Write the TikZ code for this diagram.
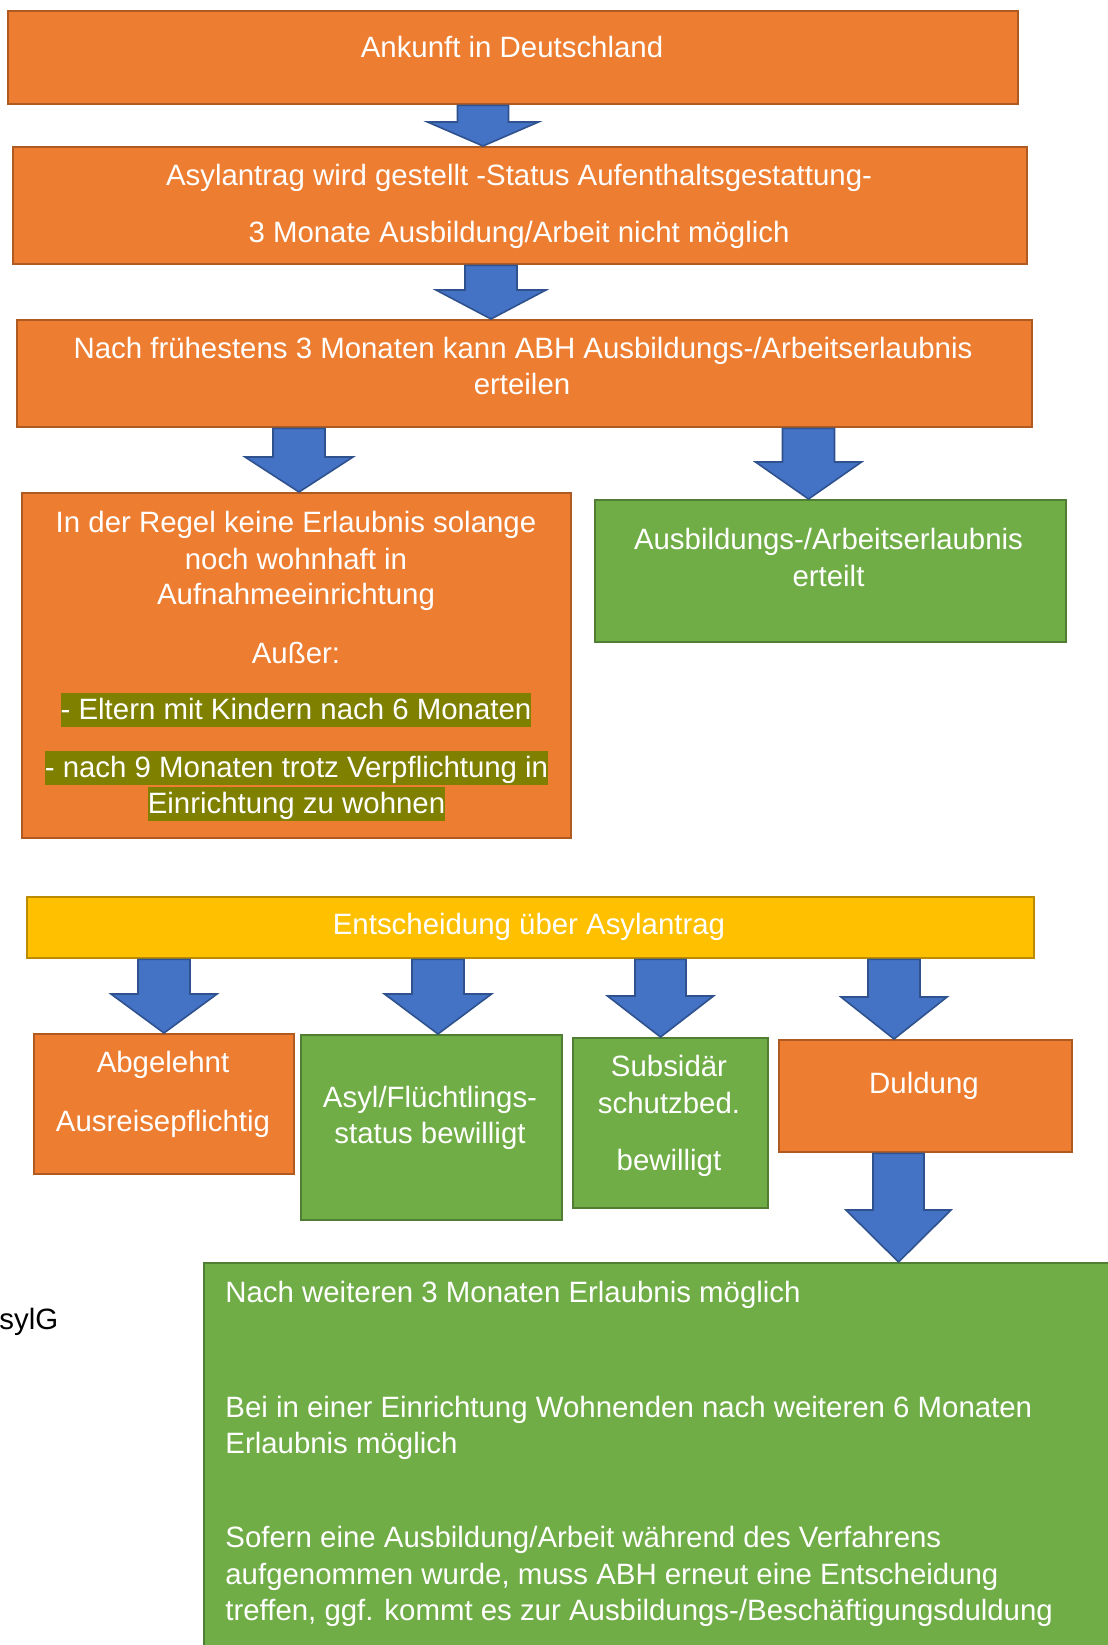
\documentclass[tikz,border=0pt]{standalone}
\usepackage{fontspec}
\setmainfont{Liberation Sans}
\usetikzlibrary{calc}
\definecolor{obg}{HTML}{ED7D31}
\definecolor{oln}{HTML}{AE5A21}
\definecolor{gbg}{HTML}{70AD47}
\definecolor{gln}{HTML}{507E32}
\definecolor{ybg}{HTML}{FFC000}
\definecolor{yln}{HTML}{BC8C00}
\definecolor{abg}{HTML}{4472C4}
\definecolor{aln}{HTML}{2F528F}
\definecolor{hlc}{HTML}{808000}
\tikzset{
  boxbase/.style={draw, line width=1.2pt, anchor=north west, inner sep=0pt},
  obox/.style={boxbase, fill=obg, draw=oln},
  gbox/.style={boxbase, fill=gbg, draw=gln},
  ybox/.style={boxbase, fill=ybg, draw=yln},
  txt/.style={text=white, font=\fontsize{14.7}{17.6}\selectfont, anchor=base, inner sep=0pt},
  ltxt/.style={txt, anchor=base west},
  hl/.style={txt, fill=hlc, text height=13pt, text depth=4pt},
  blockarrow/.style={fill=abg, draw=aln, line width=0.8pt, line join=miter},
}
\newcommand\mkbox[6]{\node[#2, minimum width={(#5-#3)*0.5pt}, minimum height={(#6-#4)*0.5pt}] (#1) at (#3,#4) {};}
% #1 cx, #2 src, #3 dst, #4 head length, #5 shaft half width, #6 head half width
\newcommand\barrow[6]{%
  \draw[blockarrow] ({#1-#5},0 |- #2.south) -- ({#1+#5},0 |- #2.south)
    -- ($({#1+#5},0 |- #3.north)+(0,-#4)$) -- ($({#1+#6},0 |- #3.north)+(0,-#4)$)
    -- ({#1},0 |- #3.north)
    -- ($({#1-#6},0 |- #3.north)+(0,-#4)$) -- ($({#1-#5},0 |- #3.north)+(0,-#4)$)
    -- cycle;}
\begin{document}
\begin{tikzpicture}[x=0.5pt, y=-0.5pt]
\useasboundingbox (0,0) rectangle (1108,1645);
\clip (0,0) rectangle (1108,1645);
\fill[white] (0,0) rectangle (1108,1645);

% boxes
\mkbox{ank}{obox}{7}{10}{1017}{103}
\mkbox{asyl}{obox}{12}{146}{1026}{263}
\mkbox{frueh}{obox}{16}{319}{1031}{426}
\mkbox{regel}{obox}{21}{492}{570}{837}
\mkbox{erteilt}{gbox}{593.5}{499}{1064.5}{641}
\mkbox{entsch}{ybox}{26}{896}{1033}{957}
\mkbox{abgel}{obox}{33}{1033}{293}{1173}
\mkbox{fluecht}{gbox}{300}{1034}{561}{1219}
\mkbox{subs}{gbox}{571.5}{1037}{767}{1207}
\mkbox{duld}{obox}{778}{1039}{1070.5}{1151}
\mkbox{weiter}{gbox}{203}{1262}{1130}{1670}

% texts
\node[txt] (t1) at (512,57) {Ankunft in Deutschland};
\node[txt] (t2) at (519,185) {Asylantrag wird gestellt -Status Aufenthaltsgestattung-};
\node[txt] (t3) at (519,242) {3 Monate Ausbildung/Arbeit nicht möglich};
\node[txt] (t4) at (523,358) {Nach frühestens 3 Monaten kann ABH Ausbildungs-/Arbeitserlaubnis};
\node[txt] (t5) at (522,394) {erteilen};
\node[txt] (t6) at (296,532) {In der Regel keine Erlaubnis solange};
\node[txt] (t7) at (296,569) {noch wohnhaft in};
\node[txt] (t8) at (296,604) {Aufnahmeeinrichtung};
\node[txt] (t9) at (296,663) {Außer:};
\node[hl] (t10) at (296,719) {- Eltern mit Kindern nach 6 Monaten};
\node[hl] (t11) at (296.5,777) {- nach 9 Monaten trotz Verpflichtung in};
\node[hl] (t12) at (296.5,813) {Einrichtung zu wohnen};
\node[txt] (t13) at (828.5,549) {Ausbildungs-/Arbeitserlaubnis};
\node[txt] (t14) at (828.5,586) {erteilt};
\node[txt] (t15) at (529,934) {Entscheidung über Asylantrag};
\node[txt] (t16) at (163,1072) {Abgelehnt};
\node[txt] (t17) at (163,1131) {Ausreisepflichtig};
\node[txt] (t18) at (430,1107) {Asyl/Flüchtlings-};
\node[txt] (t19) at (430,1143) {status bewilligt};
\node[txt] (t20) at (669,1076) {Subsidär};
\node[txt] (t21) at (669,1113) {schutzbed.};
\node[txt] (t22) at (669,1170) {bewilligt};
\node[txt] (t23) at (924,1093) {Duldung};
\node[ltxt] (t24) at (225,1302) {Nach weiteren 3 Monaten Erlaubnis möglich};
\node[ltxt] (t25) at (225,1417) {Bei in einer Einrichtung Wohnenden nach weiteren 6 Monaten};
\node[ltxt] (t26) at (225,1453) {Erlaubnis möglich};
\node[ltxt] (t27) at (225,1547) {Sofern eine Ausbildung/Arbeit während des Verfahrens};
\node[ltxt] (t28) at (225,1584) {aufgenommen wurde, muss ABH erneut eine Entscheidung};
\node[ltxt] (t29) at (225,1620) {treffen, ggf. kommt es zur Ausbildungs-/Beschäftigungsduldung};
\node[ltxt, text=black] (t30) at (-1,1329) {sylG};

% block arrows
\barrow{483}{ank}{asyl}{24}{25.5}{55.5}
\barrow{491}{asyl}{frueh}{29}{26}{55}
\barrow{299}{frueh}{regel}{35}{26}{54}
\barrow{808.5}{frueh}{erteilt}{37}{26}{53}
\barrow{164}{entsch}{abgel}{39}{26}{53}
\barrow{438}{entsch}{fluecht}{40}{26}{53.5}
\barrow{660.5}{entsch}{subs}{41}{25.5}{53}
\barrow{894}{entsch}{duld}{42}{26}{53}
\barrow{898.5}{duld}{weiter}{52}{25.5}{52.5}
\end{tikzpicture}
\end{document}
